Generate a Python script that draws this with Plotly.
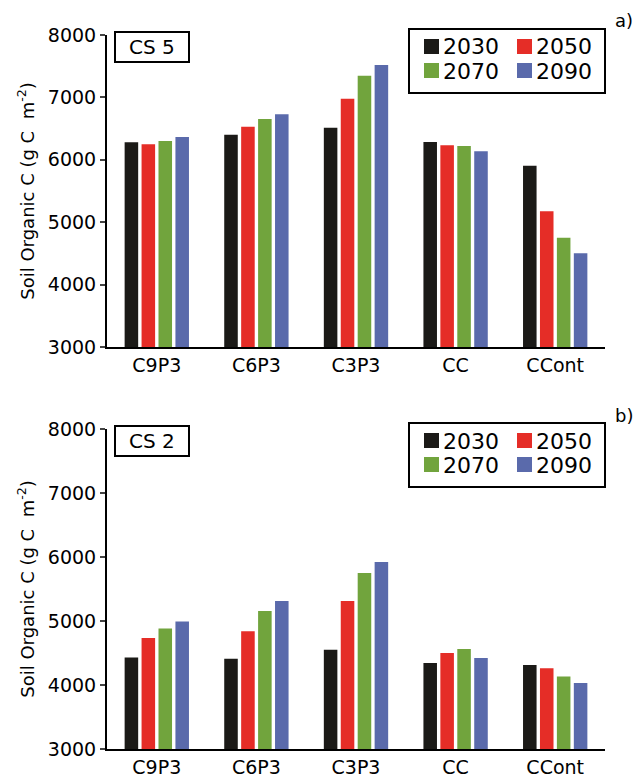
import plotly.graph_objects as go

categories = ["C9P3", "C6P3", "C3P3", "CC", "CCont"]
years = ["2030", "2050", "2070", "2090"]
colors = ["#1b1a17", "#e52d27", "#71a43d", "#5a6aab"]

# Panel a) CS 5
cs5_2030 = [6280, 6402, 6515, 6285, 5906]
cs5_2050 = [6248, 6530, 6979, 6232, 5174]
cs5_2070 = [6301, 6654, 7348, 6221, 4752]
cs5_2090 = [6365, 6729, 7519, 6136, 4501]

# Panel b) CS 2
cs2_2030 = [4431, 4411, 4552, 4344, 4313]
cs2_2050 = [4734, 4838, 5312, 4500, 4260]
cs2_2070 = [4884, 5156, 5750, 4562, 4134]
cs2_2090 = [4994, 5312, 5922, 4422, 4031]

panels = [
    dict(name="CS 5", tag="a)", series=[cs5_2030, cs5_2050, cs5_2070, cs5_2090]),
    dict(name="CS 2", tag="b)", series=[cs2_2030, cs2_2050, cs2_2070, cs2_2090]),
]
yticks = [3000, 4000, 5000, 6000, 7000, 8000]

OFF = 8  # page body margin
W, H = 641 - OFF, 778 - OFF
LEFT, RIGHT = 107 - OFF, 605 - OFF
extents = [(35 - OFF, 347 - OFF), (429 - OFF, 749 - OFF)]
ML, MR = LEFT, W - RIGHT
MT, MB = extents[0][0], H - extents[1][1]
PW = W - ML - MR
PH = H - MT - MB

FONT = "DejaVu Sans"
fig = go.Figure()

shapes = []
annotations = []

for i, p in enumerate(panels):
    xa = "x" if i == 0 else "x2"
    ya = "y" if i == 0 else "y2"
    for yr, col, vals in zip(years, colors, p["series"]):
        fig.add_trace(go.Bar(
            x=categories, y=vals, name=yr, marker_color=col,
            marker_line_width=0, xaxis=xa, yaxis=ya, showlegend=False,
            offsetgroup=yr,
        ))
    top, bot = extents[i]
    ph = bot - top

    def xd(px):
        return (px - OFF - ML) / PW

    def yd(px_from_top):
        return 1 - px_from_top / ph

    xr = "x domain" if i == 0 else "x2 domain"
    yr_ = "y domain" if i == 0 else "y2 domain"
    # CS box
    shapes.append(dict(type="rect", xref=xr, yref=yr_, x0=xd(115), x1=xd(189),
                       y0=yd(27), y1=yd(-3), line=dict(color="black", width=2),
                       fillcolor="white"))
    annotations.append(dict(text=p["name"], xref=xr, yref=yr_, x=xd(152), y=yd(12),
                            showarrow=False, font=dict(family=FONT, size=20, color="black"),
                            xanchor="center", yanchor="middle"))
    # legend box
    shapes.append(dict(type="rect", xref=xr, yref=yr_, x0=xd(409), x1=xd(605),
                       y0=yd(58), y1=yd(-6), line=dict(color="black", width=2),
                       fillcolor="white"))
    pos = [(424, 4), (517, 4), (424, 28), (517, 28)]
    for (lx, ly), yr, col in zip(pos, years, colors):
        shapes.append(dict(type="rect", xref=xr, yref=yr_, x0=xd(lx), x1=xd(lx + 15),
                           y0=yd(ly + 15), y1=yd(ly), line=dict(width=0), fillcolor=col))
        annotations.append(dict(text=yr, xref=xr, yref=yr_, x=xd(lx + 17), y=yd(ly + 8),
                                showarrow=False, xanchor="left", yanchor="middle",
                                font=dict(family=FONT, size=22, color="black")))
    # panel tag
    annotations.append(dict(text=p["tag"], xref=xr, yref=yr_, x=xd(613), y=yd(-14),
                            showarrow=False, xanchor="left", yanchor="middle",
                            font=dict(family=FONT, size=18, color="black")))

axis_common = dict(showline=True, linecolor="black", linewidth=2, showgrid=False,
                   zeroline=False, automargin=False)
ytitle = dict(text="Soil Organic C (g C  m<sup>-2</sup>)",
              font=dict(family=FONT, size=18), standoff=9)

fig.update_layout(
    width=W, height=H,
    margin=dict(l=ML, r=MR, t=MT, b=MB),
    paper_bgcolor="white", plot_bgcolor="white",
    barmode="group", bargap=0.32, bargroupgap=0.2,
    font=dict(family=FONT, color="black"),
    xaxis=dict(domain=[0, 1], anchor="y", ticks="", tickfont=dict(size=19),
               **axis_common),
    yaxis=dict(domain=[(extents[1][1] - extents[0][1]) / PH, 1.0], anchor="x",
               range=[3000, 8000], tickvals=yticks, ticks="outside", ticklen=5,
               tickwidth=2, tickfont=dict(size=19), title=ytitle, **axis_common),
    xaxis2=dict(domain=[0, 1], anchor="y2", ticks="", tickfont=dict(size=19),
                **axis_common),
    yaxis2=dict(domain=[0, (extents[1][1] - extents[1][0]) / PH], anchor="x2",
                range=[3000, 8000], tickvals=yticks, ticks="outside", ticklen=5,
                tickwidth=2, tickfont=dict(size=19), title=ytitle, **axis_common),
    shapes=shapes,
    annotations=annotations,
)

fig.write_html("out.html")
